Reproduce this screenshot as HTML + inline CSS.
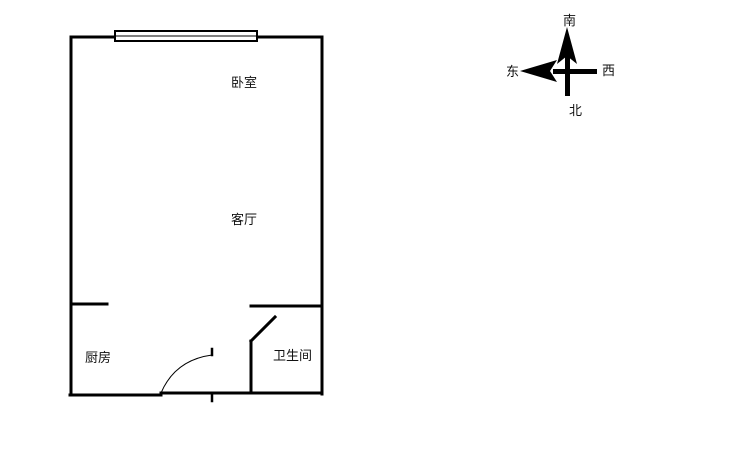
<!DOCTYPE html>
<html><head><meta charset="utf-8"><style>
html,body{margin:0;padding:0;background:#fff;width:729px;height:465px;overflow:hidden}
svg{display:block}
text{font-family:"Liberation Sans","Noto Sans CJK SC",sans-serif;font-size:13px;fill:#111}
</style></head><body>
<svg width="729" height="465" viewBox="0 0 729 465">
<g stroke="#000" fill="none" stroke-linecap="square">
<line x1="71" y1="37" x2="322" y2="37" stroke-width="3"/>
<line x1="71" y1="37" x2="71" y2="395" stroke-width="3"/>
<line x1="322" y1="37" x2="322" y2="394" stroke-width="3"/>
<line x1="70" y1="395" x2="161" y2="395" stroke-width="3"/>
<line x1="161" y1="393" x2="322" y2="393" stroke-width="3"/>
<line x1="71" y1="304" x2="107" y2="304" stroke-width="3"/>
<line x1="251" y1="306" x2="322" y2="306" stroke-width="3"/>
<line x1="251" y1="341" x2="251" y2="393" stroke-width="3"/>
<line x1="251" y1="341" x2="275" y2="317" stroke-width="3"/>
<line x1="212" y1="349" x2="212" y2="355" stroke-width="2.5"/>
<line x1="212" y1="395" x2="212" y2="401" stroke-width="2.5"/>
<path d="M161 393 Q175 360 212 355" stroke-width="1"/>
<rect x="115" y="31" width="142" height="10" fill="#fff" stroke-width="2"/>
<line x1="116" y1="36" x2="256" y2="36" stroke-width="1"/>
</g>
<rect x="565" y="50" width="5" height="46" fill="#000"/>
<polygon points="567,27 557,64 567,56 577,64" fill="#000"/>
<rect x="553" y="69" width="44" height="5" fill="#000"/>
<polygon points="520,71 557,60 550,71 557,82" fill="#000"/>
<text x="563" y="25">南</text>
<text x="506" y="76">东</text>
<text x="602" y="75">西</text>
<text x="569" y="115">北</text>
<text x="231" y="87">卧室</text>
<text x="231" y="224">客厅</text>
<text x="85" y="362">厨房</text>
<text x="273" y="360">卫生间</text>
</svg>
</body></html>
